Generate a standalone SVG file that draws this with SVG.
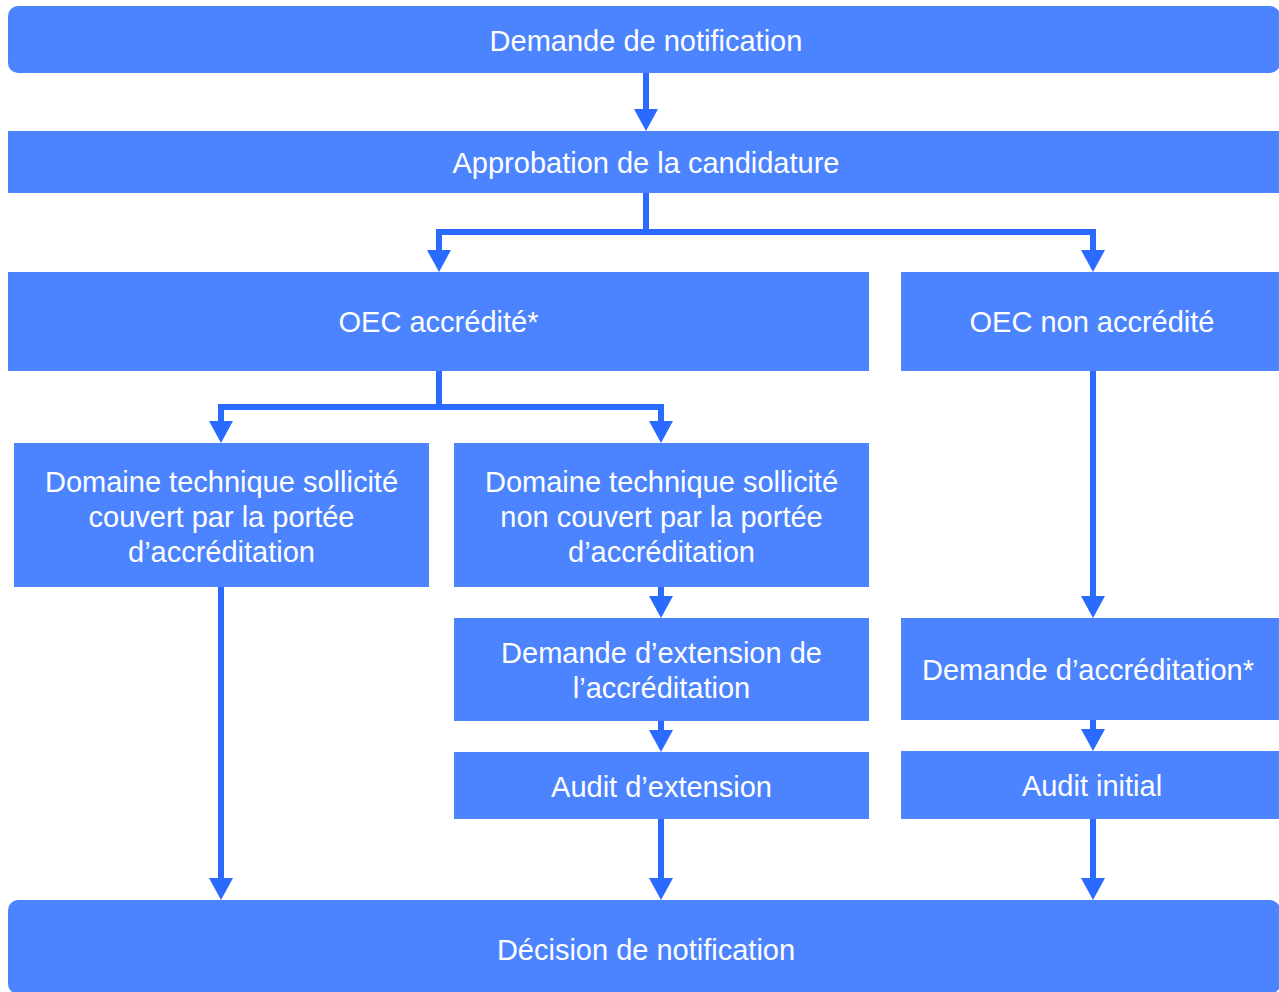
<svg xmlns="http://www.w3.org/2000/svg" width="1279" height="992" viewBox="0 0 1279 992">
<style>
.box{fill:#4C84FF}
.t{font-family:"Liberation Sans",Arial,sans-serif;font-size:29px;fill:#FFFFFF;text-anchor:middle}
.c{fill:none;stroke:#2A6AFF;stroke-width:6;stroke-linejoin:miter}
</style>
<defs>
<marker id="ah" viewBox="0 0 22 24" refX="0" refY="12" markerWidth="22" markerHeight="24" markerUnits="userSpaceOnUse" orient="auto">
<path d="M0,0 L22,12 L0,24 Z" fill="#2A6AFF"/>
</marker>
</defs>
<rect width="1279" height="992" fill="#FFFFFF"/>
<g id="connectors">
<path class="c" d="M646,73 V109" marker-end="url(#ah)"/>
<path class="c" d="M646,193 V232 H439 V250" marker-end="url(#ah)"/>
<path class="c" d="M646,232 H1093 V250" marker-end="url(#ah)"/>
<path class="c" d="M439,371 V407 H221 V421" marker-end="url(#ah)"/>
<path class="c" d="M439,407 H661 V421" marker-end="url(#ah)"/>
<path class="c" d="M1093,371 V596" marker-end="url(#ah)"/>
<path class="c" d="M661,587 V596" marker-end="url(#ah)"/>
<path class="c" d="M661,721 V730" marker-end="url(#ah)"/>
<path class="c" d="M1093,720 V729" marker-end="url(#ah)"/>
<path class="c" d="M221,587 V878" marker-end="url(#ah)"/>
<path class="c" d="M661,819 V878" marker-end="url(#ah)"/>
<path class="c" d="M1093,819 V878" marker-end="url(#ah)"/>
</g>
<g id="demande-notification">
<rect class="box" x="8" y="6" width="1272" height="67" rx="10"/>
<text class="t" x="646" y="51">Demande de notification</text>
</g>
<g id="approbation">
<rect class="box" x="8" y="131" width="1272" height="62"/>
<text class="t" x="646" y="173">Approbation de la candidature</text>
</g>
<g id="oec-accredite">
<rect class="box" x="8" y="272" width="861" height="99"/>
<text class="t" x="438.5" y="332">OEC accrédité*</text>
</g>
<g id="oec-non-accredite">
<rect class="box" x="901" y="272" width="379" height="99"/>
<text class="t" x="1092" y="332">OEC non accrédité</text>
</g>
<g id="domaine-couvert">
<rect class="box" x="14" y="443" width="415" height="144"/>
<text class="t" x="221.5" y="492">Domaine technique sollicité</text>
<text class="t" x="221.5" y="527">couvert par la portée</text>
<text class="t" x="221.5" y="562">d’accréditation</text>
</g>
<g id="domaine-non-couvert">
<rect class="box" x="454" y="443" width="415" height="144"/>
<text class="t" x="661.5" y="492">Domaine technique sollicité</text>
<text class="t" x="661.5" y="527">non couvert par la portée</text>
<text class="t" x="661.5" y="562">d’accréditation</text>
</g>
<g id="demande-extension">
<rect class="box" x="454" y="618" width="415" height="103"/>
<text class="t" x="661.5" y="663">Demande d’extension de</text>
<text class="t" x="661.5" y="698">l’accréditation</text>
</g>
<g id="audit-extension">
<rect class="box" x="454" y="752" width="415" height="67"/>
<text class="t" x="661.5" y="797">Audit d’extension</text>
</g>
<g id="demande-accreditation">
<rect class="box" x="901" y="618" width="379" height="102"/>
<text class="t" x="1088" y="680">Demande d’accréditation*</text>
</g>
<g id="audit-initial">
<rect class="box" x="901" y="751" width="379" height="68"/>
<text class="t" x="1092" y="796">Audit initial</text>
</g>
<g id="decision-notification">
<rect class="box" x="8" y="900" width="1272" height="94" rx="10"/>
<text class="t" x="646" y="960">Décision de notification</text>
</g>
</svg>
